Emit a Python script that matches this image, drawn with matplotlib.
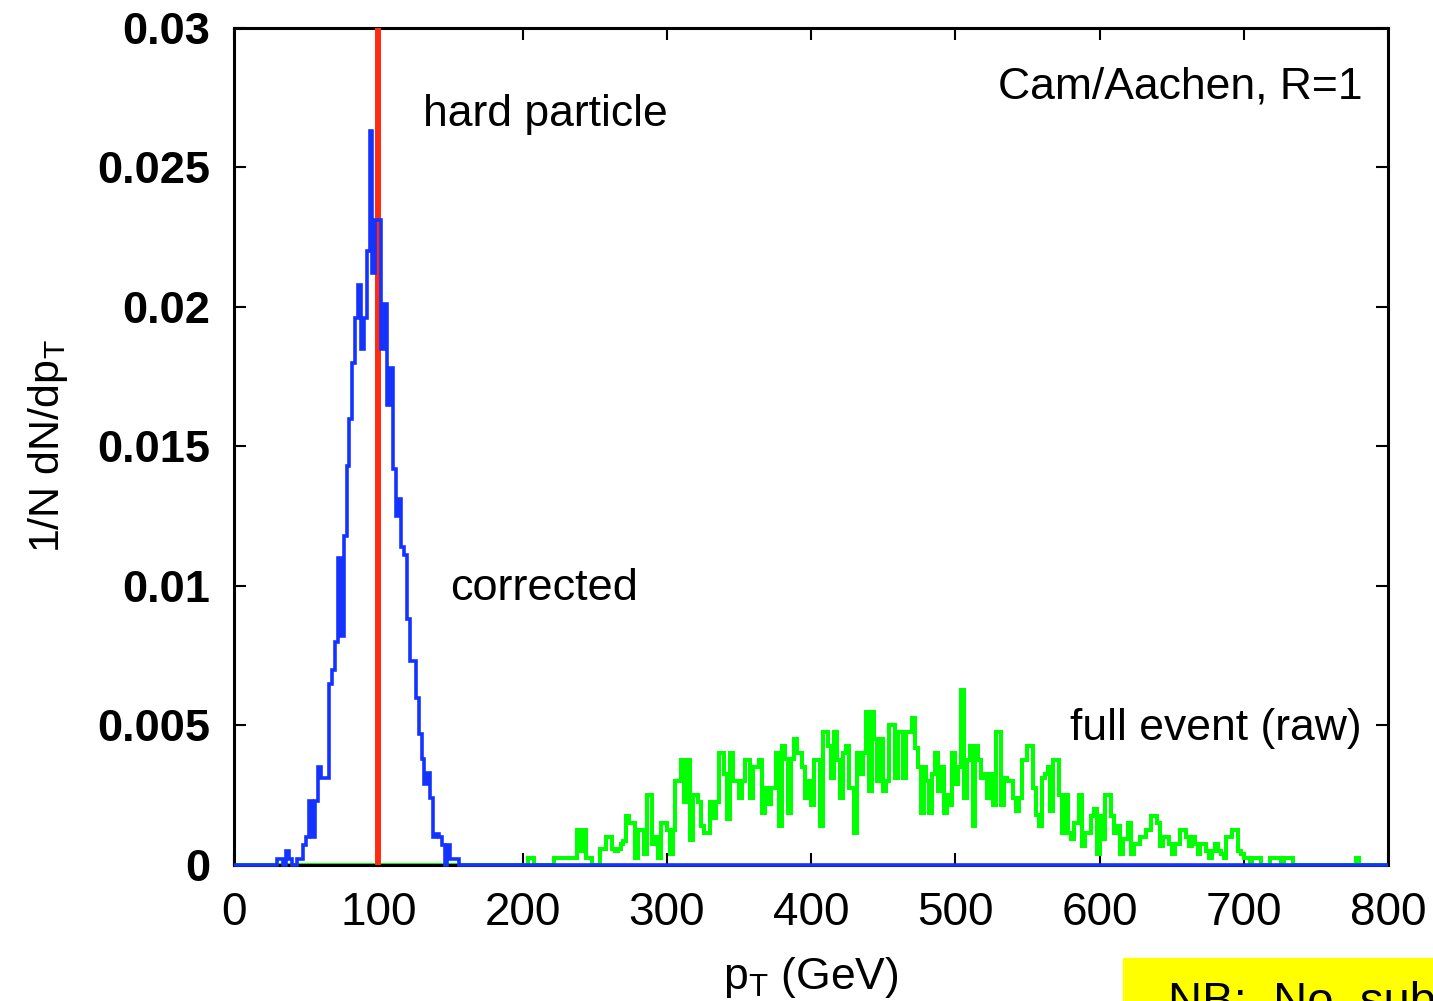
import matplotlib.pyplot as plt
import numpy as np
from matplotlib.patches import Rectangle

# histogram bin width (GeV) and axis range
BIN = 2.0
X_MAX = 800

# "corrected" jet pT distribution, 2 GeV bins starting at 30 GeV
blue_start = 30
blue_vals = [
    0.0002, 0.0002, 0.0, 0.0005, 0.0002, 0.0, 0.0, 0.0002, 0.0002, 0.0007,
    0.0010, 0.0023, 0.0010, 0.0023, 0.0035, 0.0031, 0.0031, 0.0031, 0.0065, 0.0070,
    0.0080, 0.0110, 0.0082, 0.0118, 0.0143, 0.0160, 0.0180, 0.0196, 0.0208, 0.0185,
    0.0196, 0.0220, 0.0263, 0.0212, 0.0231, 0.0231, 0.0185, 0.0201, 0.0165, 0.0178,
    0.0142, 0.0125, 0.0131, 0.0114, 0.0111, 0.0088, 0.0073, 0.0073, 0.0060, 0.0047,
    0.0038, 0.0029, 0.0033, 0.0024, 0.0010, 0.0011, 0.0010, 0.0007, 0.0, 0.0007,
    0.0002, 0.0002, 0.0002,
]

# "full event (raw)" jet pT distribution, 2 GeV bins starting at 200 GeV
green_start = 200
green_vals = [
    0, 0, 0.00026, 0.00026, 0, 0, 0, 0, 0, 0,
    0, 0.00026, 0.00026, 0.00026, 0.00026, 0.00026, 0.00026, 0.00026, 0.00026, 0.00125,
    0.0005, 0.00125, 0.00026, 0.00026, 0, 0, 0, 0.00057, 0.00057, 0.0010,
    0.0010, 0.00057, 0.0005, 0.00057, 0.00076, 0.00086, 0.00176, 0.0015, 0.0015, 0.00026,
    0.00125, 0.00125, 0.00038, 0.0025, 0.0025, 0.00074, 0.0010, 0.00026, 0.0015, 0.0015,
    0.00125, 0.00038, 0.00125, 0.0030, 0.0030, 0.00376, 0.00227, 0.00376, 0.00088, 0.0025,
    0.0025, 0.00227, 0.0014, 0.00113, 0.00113, 0.00227, 0.00167, 0.00227, 0.0040, 0.0040,
    0.00325, 0.00163, 0.0040, 0.0030, 0.0030, 0.0024, 0.0030, 0.00376, 0.00376, 0.0024,
    0.0035, 0.0035, 0.00376, 0.00188, 0.00277, 0.00217, 0.00277, 0.00277, 0.0040, 0.0014,
    0.00427, 0.0038, 0.00188, 0.0038, 0.0045, 0.0040, 0.0040, 0.0035, 0.0024, 0.0030,
    0.00215, 0.00376, 0.00376, 0.0014, 0.00477, 0.00477, 0.00427, 0.00313, 0.00477, 0.00376,
    0.0024, 0.0040, 0.00427, 0.00277, 0.00277, 0.00113, 0.0040, 0.00325, 0.0040, 0.0055,
    0.00265, 0.0055, 0.0045, 0.0030, 0.0045, 0.00265, 0.0030, 0.0050, 0.0050, 0.00313,
    0.00477, 0.00477, 0.00313, 0.00477, 0.00477, 0.00526, 0.0042, 0.0035, 0.00188, 0.0035,
    0.0030, 0.00188, 0.00325, 0.0040, 0.00265, 0.0035, 0.00188, 0.0025, 0.00215, 0.0040,
    0.0029, 0.0035, 0.00626, 0.0024, 0.00376, 0.00427, 0.0014, 0.00427, 0.00376, 0.00313,
    0.00325, 0.0024, 0.00325, 0.00215, 0.00477, 0.00477, 0.00215, 0.0031, 0.0030, 0.0030,
    0.0024, 0.00194, 0.0024, 0.00376, 0.00376, 0.00427, 0.00427, 0.00277, 0.0018, 0.0014,
    0.00313, 0.00325, 0.0035, 0.00194, 0.00376, 0.00376, 0.0025, 0.00113, 0.0025, 0.00113,
    0.00092, 0.0015, 0.0015, 0.0025, 0.00068, 0.00113, 0.00113, 0.00176, 0.0020, 0.0004,
    0.00176, 0.00092, 0.0025, 0.0025, 0.00176, 0.00113, 0.0014, 0.0004, 0.00092, 0.00092,
    0.0015, 0.0004, 0.00074, 0.00074, 0.0010, 0.0010, 0.00125, 0.00125, 0.00176, 0.00176,
    0.0015, 0.00068, 0.0010, 0.0010, 0.00074, 0.0004, 0.00074, 0.00074, 0.00125, 0.00125,
    0.0010, 0.00068, 0.0010, 0.00074, 0.0004, 0.00074, 0.00074, 0.0005, 0.00026, 0.0005,
    0.00074, 0.0005, 0.00038, 0.00026, 0.0010, 0.0010, 0.00125, 0.00125, 0.0005, 0.00038,
    0.00024, 0.00024, 0, 0.00024, 0.00024, 0.00024, 0, 0, 0, 0.00024,
    0.00024, 0.00024, 0.00024, 0, 0.00024, 0.00024, 0.00024, 0, 0, 0,
    0, 0, 0, 0, 0, 0, 0, 0, 0, 0,
    0, 0, 0, 0, 0, 0, 0, 0, 0, 0.00024,
]

hard_pt = 100

x_ticks = [0, 100, 200, 300, 400, 500, 600, 700, 800]
y_ticks = [0, 0.005, 0.01, 0.015, 0.02, 0.025, 0.03]
y_tick_labels = ["0", "0.005", "0.01", "0.015", "0.02", "0.025", "0.03"]

plt.rcParams['font.family'] = ['Liberation Sans', 'DejaVu Sans']

fig = plt.figure(figsize=(14.33, 10.01), dpi=100)
ax = fig.add_axes([0.1633, 0.1359, 0.8053, 0.8362])

edges = np.arange(0, X_MAX + BIN, BIN)


def full_hist(start, vals):
    h = np.zeros(len(edges) - 1)
    i0 = int(round(start / BIN))
    h[i0:i0 + len(vals)] = vals
    return h


ax.stairs(full_hist(green_start, green_vals), edges, color="#00ff00", linewidth=2.9,
          zorder=2, clip_on=False)
ax.plot([hard_pt, hard_pt], [0, 0.03], color="#ff2a10", linewidth=4.3, zorder=2.6)
ax.stairs(full_hist(blue_start, blue_vals), edges, color="#1433ff", linewidth=2.6,
          zorder=3, clip_on=False)

ax.set_xlim(0, X_MAX)
ax.set_ylim(0, 0.03)
ax.set_xticks(x_ticks)
ax.set_yticks(y_ticks)
ax.set_yticklabels(y_tick_labels)
ax.tick_params(direction='in', length=8.6, width=1.5, top=True, right=True)
ax.tick_params(axis='x', labelsize=33, pad=19)
ax.tick_params(axis='y', labelsize=32.5, pad=17)
for lab in ax.get_yticklabels():
    lab.set_fontweight('bold')
for sp in ax.spines.values():
    sp.set_linewidth(2.2)

ax.set_xlabel(r"p$_\mathregular{T}$ (GeV)", fontsize=32, labelpad=14)
ax.set_ylabel(r"1/N dN/dp$_\mathregular{T}$", fontsize=31)
ax.yaxis.set_label_coords(-0.142, 0.5)

ax.text(131, 0.0269, "hard particle", fontsize=32, va='center')
ax.text(782, 0.0279, "Cam/Aachen, R=1", fontsize=32, va='center', ha='right')
ax.text(150, 0.0099, "corrected", fontsize=32.5, va='center')
ax.text(782, 0.0049, "full event (raw)", fontsize=32, va='center', ha='right')

# yellow note box cut off at the bottom-right corner
fig.add_artist(Rectangle((1123 / 1433, 0), 1, 43 / 1001, transform=fig.transFigure,
                         color="#ffff00", zorder=0))
fig.text(1168 / 1433, -14 / 1001, "NB:  No  subtraction", fontsize=34, va='baseline')

fig.savefig("out.png", dpi=100)
